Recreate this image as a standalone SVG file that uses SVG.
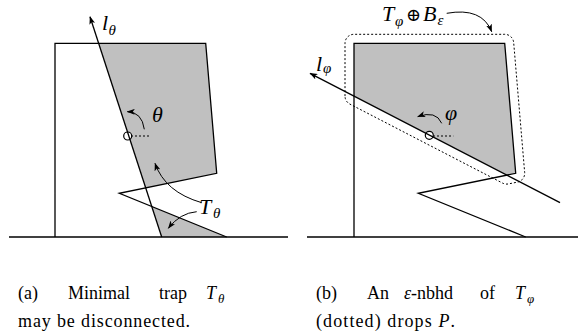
<svg xmlns="http://www.w3.org/2000/svg" width="587" height="333" viewBox="0 0 587 333">
<defs>
<marker id="ah" viewBox="0 0 8 6" refX="7.5" refY="3" markerWidth="8" markerHeight="6" markerUnits="userSpaceOnUse" orient="auto">
<path d="M0,0 L8,3 L0,6 L2,3 z" fill="#000"/>
</marker>
<style>
.shade{fill:#c0c0c0;stroke:none}
.out{fill:none;stroke:#000;stroke-width:1.3;stroke-linejoin:miter}
.ln{fill:none;stroke:#000;stroke-width:1.3}
.arc{fill:none;stroke:#000;stroke-width:1}
.dash{fill:none;stroke:#000;stroke-width:1;stroke-dasharray:2 2}
.dot{fill:#fff;stroke:#000;stroke-width:1.2}
.m{font-family:"Liberation Serif","DejaVu Serif",serif;font-style:italic;font-size:22px}
.s{font-family:"Liberation Serif","DejaVu Serif",serif;font-style:italic;font-size:15px}
.c{font-family:"Liberation Serif","DejaVu Serif",serif;font-size:18px}
.ci{font-family:"Liberation Serif","DejaVu Serif",serif;font-size:18px;font-style:italic}
.cs{font-family:"Liberation Serif","DejaVu Serif",serif;font-size:13px;font-style:italic}
</style>
</defs>

<g id="panel-a">
<g id="trap-a">
<polygon class="shade" points="98.66,43.3 205.7,43.3 216.7,173.3 145.7,187.9"/>
<polygon class="shade" points="151.8,206.5 226.7,237 161.7,237"/>
</g>
<g id="polygon-a">
<polyline class="out" points="55,237 55,43.3 205.7,43.3 216.7,173.3 119.3,193.3 226.7,237"/>
<line class="ln" x1="9" y1="237" x2="288" y2="237"/>
</g>
<g id="point-a">
<line class="dash" x1="131" y1="136" x2="151" y2="136"/>
<circle class="dot" cx="127.7" cy="136" r="4"/>
</g>
<g id="label-ltheta">
<text class="m" x="102" y="30">l</text><text class="s" x="108.5" y="35">θ</text>
</g>
<g id="label-theta"><text class="m" x="152" y="122">θ</text></g>
<g id="label-Ttheta">
<text class="m" x="199" y="213.5">T</text><text class="s" x="213" y="218">θ</text>
</g>
</g>

<g id="panel-b">
<g id="trap-b">
<polygon class="shade" points="354,96.1 354,43.3 504.7,43.3 515.7,173.3 506.7,175.1"/>
</g>
<g id="polygon-b">
<polyline class="out" points="354,237 354,43.3 504.7,43.3 515.7,173.3 418.3,193.3 525.7,237"/>
<line class="ln" x1="307" y1="237" x2="578" y2="237"/>
</g>
<g id="nbhd-b">
<path class="dash" d="M345,96.1 L345,43.3 A9,9 0 0 1 354,34.3 L504.7,34.3 A9,9 0 0 1 513.67,42.54 L524.67,172.54 A9,9 0 0 1 517.46,182.12 L508.46,183.92 A9,9 0 0 1 502.56,183.09 L349.86,104.09 A9,9 0 0 1 345,96.1 Z"/>
</g>
<g id="point-b">
<line class="dash" x1="433" y1="136" x2="453.3" y2="136"/>
<circle class="dot" cx="429.3" cy="135.3" r="4"/>
</g>
<g id="label-lphi">
<text class="m" x="316" y="70.7">l</text><text class="s" x="323" y="73">φ</text>
</g>
<g id="label-phi"><text class="m" x="445" y="120">φ</text></g>
<g id="label-nbhd">
<text class="m" x="382" y="21">T</text><text class="s" x="395" y="26">φ</text>
<text x="406" y="21" style="font-family:'DejaVu Serif',serif;font-size:18px">⊕</text>
<text class="m" x="423" y="21">B</text><text class="s" x="437.5" y="25">ε</text>
</g>
</g>

<g id="connectors">
<line class="ln" x1="161.7" y1="237" x2="90" y2="16.7" marker-end="url(#ah)"/>
<path class="arc" d="M144.3,129.3 Q142,112 127.3,111.7" marker-end="url(#ah)"/>
<path class="arc" d="M201.7,202.7 Q165,192 155,163.3" marker-end="url(#ah)"/>
<path class="arc" d="M196.7,211.7 Q180,213 168.3,228.3" marker-end="url(#ah)"/>
<line class="ln" x1="560" y1="202.7" x2="310" y2="73.3" marker-end="url(#ah)"/>
<path class="arc" d="M441.7,123.3 Q436,110 417.7,116.7" marker-end="url(#ah)"/>
<path class="arc" d="M446.7,13.3 Q482,7 491.7,31.7" marker-end="url(#ah)"/>
</g>

<g id="captions">
<text class="c" x="18" y="299">(a)</text>
<text class="c" x="68" y="299">Minimal</text>
<text class="c" x="159" y="299">trap</text>
<text class="ci" x="206" y="299">T</text><text class="cs" x="218" y="303">θ</text>
<text class="c" x="18" y="327" textLength="172" lengthAdjust="spacing">may be disconnected.</text>
<text class="c" x="316" y="299">(b)</text>
<text class="c" x="367" y="299">An</text>
<text class="c" x="404" y="299"><tspan font-style="italic">ε</tspan>-nbhd</text>
<text class="c" x="480" y="299">of</text>
<text class="ci" x="515" y="299">T</text><text class="cs" x="527" y="303">φ</text>
<text class="c" x="316" y="327" textLength="139" lengthAdjust="spacing">(dotted) drops <tspan font-style="italic">P</tspan>.</text>
</g>
</svg>
